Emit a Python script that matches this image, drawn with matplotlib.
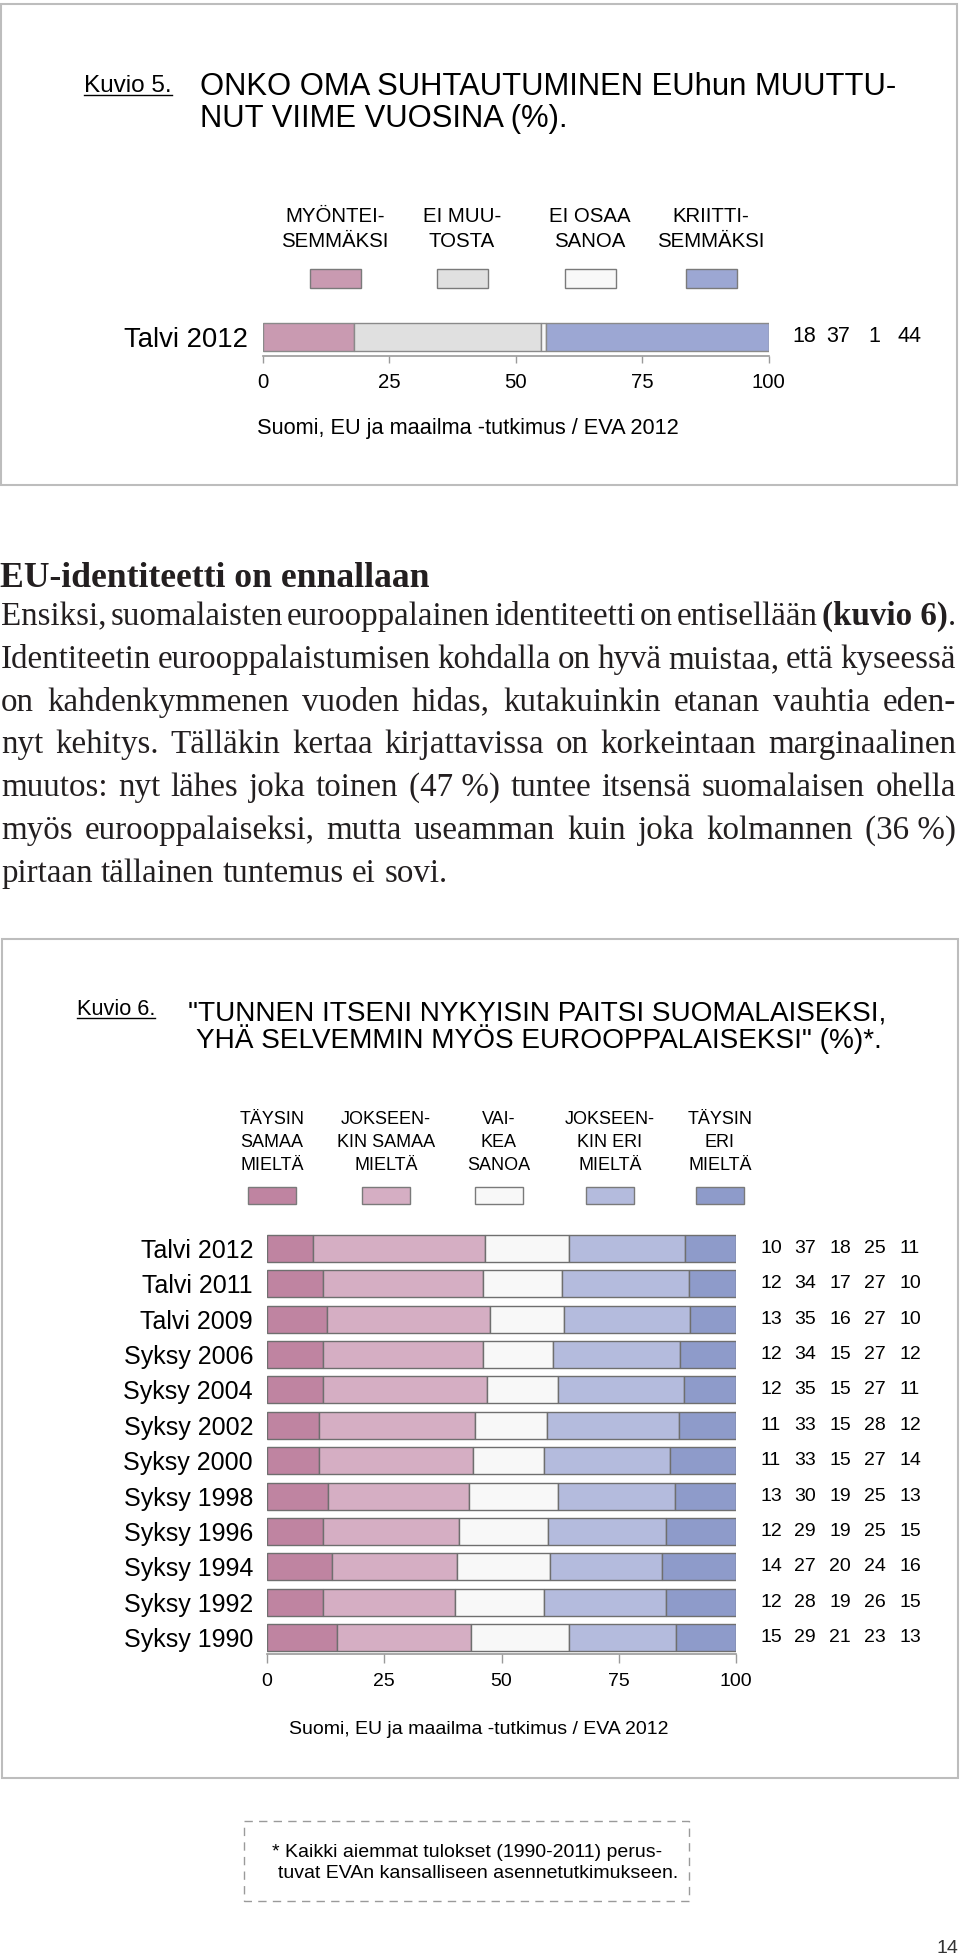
import matplotlib
matplotlib.use('Agg')
import matplotlib.pyplot as plt
import matplotlib.transforms as mtransforms
from matplotlib.patches import Rectangle
import numpy as np

SANS = 'Liberation Sans'
SERIF = 'Liberation Serif'
W, H = 960, 1955

# --- data: kuvio 5 ---
k5_categories = ['Talvi 2012']
k5_series = ['MYÖNTEI-\nSEMMÄKSI', 'EI MUU-\nTOSTA', 'EI OSAA\nSANOA', 'KRIITTI-\nSEMMÄKSI']
k5_values = [[18, 37, 1, 44]]
k5_colors = ['#c99ab1', '#e0e0e0', '#f8f8f8', '#9ca7d3']

# --- data: kuvio 6 ---
k6_categories = ['Talvi 2012', 'Talvi 2011', 'Talvi 2009', 'Syksy 2006', 'Syksy 2004', 'Syksy 2002',
                 'Syksy 2000', 'Syksy 1998', 'Syksy 1996', 'Syksy 1994', 'Syksy 1992', 'Syksy 1990']
k6_series = ['TÄYSIN\nSAMAA\nMIELTÄ', 'JOKSEEN-\nKIN SAMAA\nMIELTÄ', 'VAI-\nKEA\nSANOA',
             'JOKSEEN-\nKIN ERI\nMIELTÄ', 'TÄYSIN\nERI\nMIELTÄ']
k6_taysin_samaa = [10, 12, 13, 12, 12, 11, 11, 13, 12, 14, 12, 15]
k6_jokseenkin_samaa = [37, 34, 35, 34, 35, 33, 33, 30, 29, 27, 28, 29]
k6_vaikea = [18, 17, 16, 15, 15, 15, 15, 19, 19, 20, 19, 21]
k6_jokseenkin_eri = [25, 27, 27, 27, 27, 28, 27, 25, 25, 24, 26, 23]
k6_taysin_eri = [11, 10, 10, 12, 11, 12, 14, 13, 15, 16, 15, 13]
k6_colors = ['#bf84a1', '#d5aec3', '#f8f8f8', '#b4bbdd', '#8e9bca']
x_ticks = [0, 25, 50, 75, 100]

heading = 'EU-identiteetti on ennallaan'
body_lines = [
    'Ensiksi, suomalaisten eurooppalainen identiteetti on entisellään **(kuvio\u00a06)**.',
    'Identiteetin eurooppalaistumisen kohdalla on hyvä muistaa, että kyseessä',
    'on kahdenkymmenen vuoden hidas, kutakuinkin etanan vauhtia eden-',
    'nyt kehitys. Tälläkin kertaa kirjattavissa on korkeintaan marginaalinen',
    'muutos: nyt lähes joka toinen (47\u00a0%) tuntee itsensä suomalaisen ohella',
    'myös eurooppalaiseksi, mutta useamman kuin joka kolmannen (36\u00a0%)',
    'pirtaan tällainen tuntemus ei sovi.',
]

fig = plt.figure(figsize=(W / 100, H / 100), dpi=100)
page = fig.add_axes([0, 0, 1, 1])
page.set_xlim(0, W)
page.set_ylim(H, 0)
page.axis('off')
renderer = fig.canvas.get_renderer()


def measure(s, size, weight='normal', family=SERIF):
    t = page.text(0, 0, s, fontsize=size, fontweight=weight, family=family)
    w = t.get_window_extent(renderer).width
    t.remove()
    return w


def words_of(line):
    out = []
    for tok in line.split(' '):
        segs = tok.split('**')
        out.append([(s, 'bold' if i % 2 else 'normal') for i, s in enumerate(segs) if s])
    return out


def underline_text(x, y, s, size):
    page.text(x, y, s, fontsize=size, family=SANS, ha='left', va='baseline')
    w = measure(s, size, family=SANS)
    page.plot([x, x + w], [y + 3, y + 3], color='black', lw=1)


def frame(x0, y0, x1, y1, **kw):
    page.add_patch(Rectangle((x0, y0), x1 - x0, y1 - y0, fill=False, **kw))


def legend(centers, labels, colors, line_y, sw_y, sw_w, sw_h, size):
    for cx, lab, col in zip(centers, labels, colors):
        for k, part in enumerate(lab.split('\n')):
            page.text(cx, line_y[k], part, fontsize=size, family=SANS, ha='center', va='baseline')
        page.add_patch(Rectangle((cx - sw_w / 2, sw_y - sw_h / 2), sw_w, sw_h,
                                 facecolor=col, edgecolor='#7a7a7a', lw=1))


def stacked(rect, cats, rows, colors, height, ylim, lab_size, lab_pad, tick_size, tick_len, edge):
    x0, y0, x1, y1 = rect
    ax = fig.add_axes([x0 / W, 1 - y1 / H, (x1 - x0) / W, (y1 - y0) / H])
    ax.patch.set_alpha(0)
    r = np.array(rows, float)
    r = r / r.sum(axis=1, keepdims=True) * 100
    y = np.arange(len(cats))
    left = np.zeros(len(cats))
    for j, c in enumerate(colors):
        ax.barh(y, r[:, j], left=left, height=height, color=c, edgecolor=edge, linewidth=1)
        left += r[:, j]
    ax.set_xlim(0, 100)
    ax.set_ylim(*ylim)
    ax.set_xticks(x_ticks, [str(t) for t in x_ticks], fontsize=tick_size, family=SANS)
    ax.set_yticks(y, cats, fontsize=lab_size, family=SANS)
    for s in ['left', 'right', 'top']:
        ax.spines[s].set_visible(False)
    ax.spines['bottom'].set_color('#9a9a9a')
    ax.spines['bottom'].set_linewidth(1.2)
    ax.tick_params(axis='y', length=0, pad=lab_pad)
    ax.tick_params(axis='x', length=tick_len, width=1, color='#9a9a9a', pad=7)
    return ax


def value_columns(ax, rows, xs, size):
    trans = mtransforms.blended_transform_factory(page.transData, ax.transData)
    for i, row in enumerate(rows):
        for xv, v in zip(xs, row):
            ax.text(xv, i, str(v), transform=trans, ha='center', va='center',
                    fontsize=size, family=SANS)


# ---------- Kuvio 5 ----------
frame(1, 4, 957, 485, edgecolor='#bdbdbd', lw=1.5)
underline_text(84, 92, 'Kuvio 5.', 17.5)
page.text(200, 95, 'ONKO OMA SUHTAUTUMINEN EUhun MUUTTU-', fontsize=22.3, family=SANS, va='baseline')
page.text(200, 127, 'NUT VIIME VUOSINA (%).', fontsize=22.3, family=SANS, va='baseline')
legend([335, 462, 590, 711], k5_series, k5_colors, [222, 247], 278.5, 51, 19, 14.7)
ax5 = stacked((262.5, 318, 768.7, 356), k5_categories, k5_values, k5_colors, 1.0, (0.68, -0.68),
              19.8, 10.4, 14.7, 5, '#8a8a8a')
value_columns(ax5, k5_values, [804, 838, 874, 909], 15.5)
page.text(468, 434, 'Suomi, EU ja maailma -tutkimus / EVA 2012', fontsize=15.7, family=SANS,
          ha='center', va='baseline')

# ---------- body text ----------
hs = 24 * 430 / measure(heading, 24, 'bold')
page.text(0, 587, heading, fontsize=hs, fontweight='bold', family=SERIF, va='baseline', color='#231f20')

body_size = 24.0


def natural(line, size):
    return sum(measure(s, size, wt) for w in words_of(line) for s, wt in w) + 4 * (len(words_of(line)) - 1)


while max(natural(l, body_size) for l in body_lines[:-1]) > 956:
    body_size -= 0.25

space_w = measure('a a', body_size) - measure('aa', body_size)
for n, line in enumerate(body_lines):
    yb = 625 + 42.8 * n
    words = words_of(line)
    widths = [[measure(s, body_size, wt) for s, wt in w] for w in words]
    total = sum(sum(w) for w in widths)
    justify = n < len(body_lines) - 1
    gap = (956 - 1 - total) / (len(words) - 1) if justify else space_w
    x = 1
    for w, ws in zip(words, widths):
        for (s, wt), sw in zip(w, ws):
            page.text(x, yb, s, fontsize=body_size, fontweight=wt, family=SERIF,
                      va='baseline', ha='left', color='#231f20')
            x += sw
        x += gap

# ---------- Kuvio 6 ----------
frame(2, 939, 958, 1778, edgecolor='#bdbdbd', lw=1.5)
underline_text(77, 1015, 'Kuvio 6.', 15.7)
page.text(537, 1020, '"TUNNEN ITSENI NYKYISIN PAITSI SUOMALAISEKSI,', fontsize=20.2, family=SANS,
          ha='center', va='baseline')
page.text(539, 1048, 'YHÄ SELVEMMIN MYÖS EUROOPPALAISEKSI" (%)*.', fontsize=20.2, family=SANS,
          ha='center', va='baseline')
legend([272, 386, 499, 610, 720], k6_series, k6_colors, [1124, 1147, 1170], 1195.5, 48, 17, 13)
k6_rows = list(zip(k6_taysin_samaa, k6_jokseenkin_samaa, k6_vaikea, k6_jokseenkin_eri, k6_taysin_eri))
ax6 = stacked((267, 1232, 736, 1654), k6_categories, k6_rows, k6_colors, 0.763, (11.466, -0.466),
              18, 10, 14, 6.5, '#6f6f6f')
value_columns(ax6, k6_rows, [771, 805, 840, 875, 910], 14)
page.text(479, 1734, 'Suomi, EU ja maailma -tutkimus / EVA 2012', fontsize=14, family=SANS,
          ha='center', va='baseline')

# ---------- footnote ----------
frame(244, 1821, 689, 1901, edgecolor='#9a9a9a', lw=1, linestyle=(0, (6, 4.5)))
page.text(272, 1857, '* Kaikki aiemmat tulokset (1990-2011) perus-', fontsize=14, family=SANS, va='baseline')
page.text(278, 1878, 'tuvat EVAn kansalliseen asennetutkimukseen.', fontsize=14, family=SANS, va='baseline')
page.text(958, 1953, '14', fontsize=14, family=SANS, ha='right', va='baseline', color='#333333')

fig.savefig('out.png', dpi=100)
